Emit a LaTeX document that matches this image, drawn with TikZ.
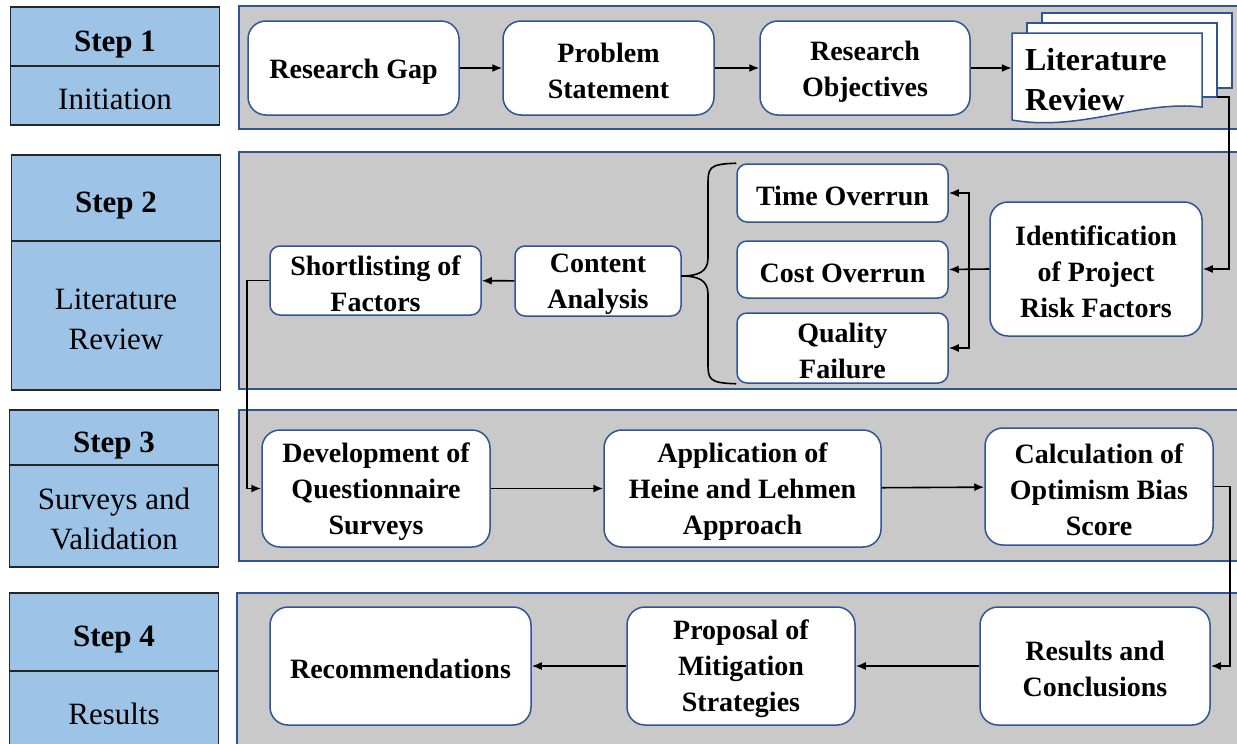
\documentclass[tikz,border=0pt]{standalone}
\usepackage{fontspec}
\setmainfont{Liberation Serif}
\usetikzlibrary{arrows.meta}
\definecolor{stepblue}{HTML}{9DC3E6}
\definecolor{panelgray}{HTML}{C9C9C9}
\definecolor{edgeblue}{HTML}{2F5597}
\tikzset{box/.style={
            draw=edgeblue,
            fill=white,
            line width=1.5pt,
            rounded corners=18pt,
            inner sep=0pt,
            align=flush center,
            execute at begin node={\rule{0pt}{26pt}},
            font=\fontsize{28}{36}\selectfont\bfseries
        },
        smallbox/.style={
            box,
            rounded corners=10pt
        },
        stepbox/.style={
            draw=black!85,
            fill=stepblue,
            line width=1.8pt,
            inner sep=0pt,
            text width=209pt,
            align=flush center,
            execute at begin node={\rule{0pt}{28pt}},
            font=\fontsize{31}{40}\selectfont
        },
        steptitle/.style={
            stepbox,
            text height=36pt,
            text depth=7pt,
            font=\fontsize{31}{40}\selectfont\bfseries
        },
        panel/.style={
            draw=edgeblue,
            fill=panelgray,
            line width=1.3pt
        },
        page/.style={
            draw=edgeblue,
            fill=white,
            line width=1.5pt
        },
        link/.style={
            ->,
            line width=1.6pt
        }
    }

\begin{document}
\begin{tikzpicture}[x=1pt, y=-1pt, >={Latex[length=10pt,width=8pt]}]
        \useasboundingbox (0,0) rectangle (1237,744);
        \fill[white] (0,0) rectangle (1237,744);

        % step column
        \node[steptitle, minimum height=59pt] (s1) at (115,36.5) {Step 1};
        \node[stepbox, minimum height=59pt] (s1t) at (115,95.5) {Initiation};
        \node[steptitle, minimum height=86pt] (s2) at (116,198) {Step 2};
        \node[stepbox, minimum height=149pt] (s2t) at (116,315.5) {Literature\\Review};
        \node[steptitle, minimum height=55pt] (s3) at (114,437.5) {Step 3};
        \node[stepbox, minimum height=102pt] (s3t) at (114,516) {Surveys and\\Validation};
        \node[steptitle, minimum height=78pt] (s4) at (114,632) {Step 4};
        \node[stepbox, minimum height=80pt] (s4t) at (114,711) {Results};

        % grey panels
        \draw[panel] (239,6) rectangle (1242,129);
        \draw[panel] (239,152) rectangle (1242,389);
        \draw[panel] (239,410) rectangle (1242,561);
        \draw[panel] (237,593) rectangle (1242,750);

        % step 1
        \node[box, text width=211pt, minimum height=94pt] (gap) at (353.5,68) {Research Gap};
        \node[box, text width=211pt, minimum height=94pt] (problem) at (608.5,68) {Problem\\Statement};
        \node[box, text width=210pt, minimum height=94pt] (objectives) at (865,68) {Research\\Objectives};

        \draw[page] (1042,13) rectangle (1232,88);
        \draw[page] (1027,23) rectangle (1217,97);
        \draw[page] (1012,33) -- (1202,33) -- (1202,107)
            .. controls (1140,100) and (1080,132) .. (1012,120) -- cycle;
        \node[inner sep=0pt, minimum width=190pt, minimum height=84pt, text width=164pt,
              align=left, font=\fontsize{32}{40}\selectfont\bfseries] (litrev) at (1107,80)
              {Literature\\Review};
        \coordinate (pageout) at (1217,97);

        \draw[link] (gap) -- (problem);
        \draw[link] (problem) -- (objectives);
        \draw[link] (objectives) -- (objectives -| litrev.west);

        % step 2
        \node[box, text width=212pt, minimum height=134pt] (ident) at (1096,269) {Identification\\of Project\\Risk Factors};
        \node[smallbox, text width=211pt, minimum height=58pt] (time) at (842.5,193) {Time Overrun};
        \node[smallbox, text width=211pt, minimum height=57pt] (cost) at (842.5,269.5) {Cost Overrun};
        \node[smallbox, text width=211pt, minimum height=70pt] (quality) at (842.5,348) {Quality\\Failure};
        \node[smallbox, text width=166pt, minimum height=70pt] (content) at (598,281) {Content\\Analysis};
        \node[smallbox, text width=211pt, minimum height=69pt] (short) at (375.5,280.5) {Shortlisting of\\Factors};
        \coordinate (split) at (969,269.5);

        \draw[link] (pageout) -- ++(12,0) |- (ident.east);
        \draw[link] (ident.west) -- (cost.east);
        \draw[link] (split) |- (time.east);
        \draw[link] (split) |- (quality.east);
        \draw[line width=1.6pt] (time.north west) .. controls (708,164) and (708,168) .. (708,186)
            -- (708,258) .. controls (708,272) and (698,276) .. (681,276)
            .. controls (698,276) and (708,280) .. (708,294)
            -- (708,362) .. controls (708,379) and (708,383) .. (quality.south west);
        \draw[link] (content) -- (short);

        % step 3
        \node[box, text width=228pt, minimum height=117pt] (devel) at (376,488.5) {Development of\\Questionnaire\\Surveys};
        \node[box, text width=277pt, minimum height=117pt] (heine) at (742.5,488.5) {Application of\\Heine and Lehmen\\Approach};
        \node[box, text width=228pt, minimum height=117pt] (calc) at (1099,486.5) {Calculation of\\Optimism Bias\\Score};

        \draw[link] (short.west) -- ++(-22,0) |- (devel.west);
        \draw[link] (devel) -- (heine);
        \draw[link] (heine) -- (calc);

        % step 4
        \node[box, text width=230pt, minimum height=118pt] (results) at (1095,666) {Results and\\Conclusions};
        \node[box, text width=228pt, minimum height=118pt] (proposal) at (741,666) {Proposal of\\Mitigation\\Strategies};
        \node[box, text width=261pt, minimum height=118pt] (recomm) at (400.5,666) {Recommendations};

        \draw[link] (calc.east) -- ++(16,0) |- (results.east);
        \draw[link] (results) -- (proposal);
        \draw[link] (proposal) -- (recomm);

    \end{tikzpicture}
\end{document}
